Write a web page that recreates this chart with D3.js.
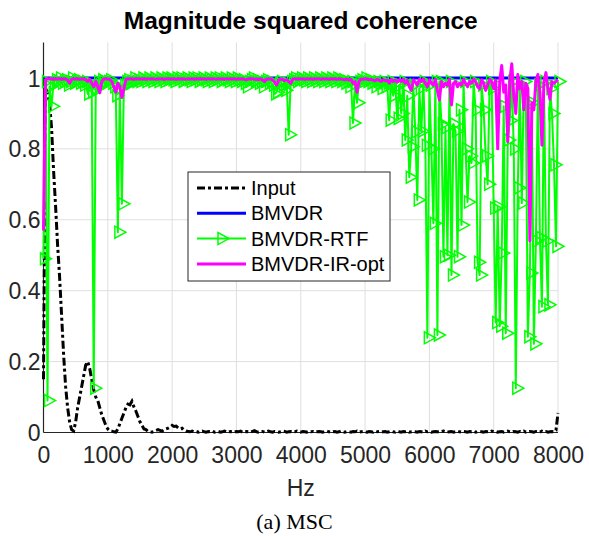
<!DOCTYPE html>
<html lang="en">
<head>
  <meta charset="UTF-8">
  <title>Magnitude squared coherence</title>
  <script src="https://d3js.org/d3.v7.min.js"></script>
  <style>
    body {
      margin: 0;
      background: white;
      font-family: "Liberation Sans", Arial, sans-serif;
    }
  </style>
</head>
<body>
  <div id="chart"></div>

  <script>
    // FFT bins: 512-point FFT at 16 kHz -> 257 bins from 0 to 8000 Hz
    const fs = 16000, nfft = 512;
    const freqs = d3.range(nfft / 2 + 1).map(i => i * fs / nfft);

    const xTicks = [0, 1000, 2000, 3000, 4000, 5000, 6000, 7000, 8000];
    const yTicks = [0, 0.2, 0.4, 0.6, 0.8, 1];

    // Input (black dash-dot)
    const input = [
      0.15, 0.97, 0.96, 0.93, 0.86, 0.74, 0.64, 0.53, 0.44, 0.33, 0.22, 0.13, 0.07, 0.03, 0.008, 0.004,
      0.03, 0.07, 0.10, 0.13, 0.16, 0.19, 0.20, 0.18, 0.15, 0.12, 0.10, 0.09, 0.07, 0.05, 0.035, 0.02,
      0.01, 0.005, 0.004, 0.002, 0.001, 0.01, 0.025, 0.04, 0.055, 0.07, 0.08, 0.078, 0.088, 0.072, 0.06, 0.045,
      0.03, 0.02, 0.01, 0.008, 0.003, 0.002, 0.001, 0.003, 0.006, 0.008, 0.006, 0.004, 0.008, 0.01, 0.012, 0.015,
      0.02, 0.017, 0.018, 0.013, 0.01, 0.012, 0.007, 0.004, 0.003, 0.002, 0.004, 0.002, 0.003, 0.001, 0.002, 0.004,
      0.002, 0.001, 0.003, 0.002, 0.004, 0.001, 0.002, 0.003, 0.001, 0.002, 0.004, 0.002, 0.001, 0.003, 0.002, 0.001,
      0.003, 0.002, 0.004, 0.001, 0.002, 0.003, 0.002, 0.001, 0.003, 0.005, 0.002, 0.001, 0.002, 0.003, 0.001, 0.002,
      0.004, 0.002, 0.001, 0.003, 0.002, 0.001, 0.002, 0.004, 0.003, 0.001, 0.002, 0.003, 0.001, 0.002, 0.004, 0.002,
      0.001, 0.003, 0.002, 0.001, 0.004, 0.002, 0.003, 0.001, 0.002, 0.003, 0.002, 0.001, 0.003, 0.004, 0.002, 0.001,
      0.002, 0.003, 0.001, 0.002, 0.004, 0.002, 0.001, 0.003, 0.002, 0.001, 0.003, 0.002, 0.004, 0.001, 0.002, 0.003,
      0.002, 0.001, 0.003, 0.002, 0.001, 0.004, 0.002, 0.003, 0.001, 0.002, 0.003, 0.001, 0.002, 0.004, 0.002, 0.001,
      0.003, 0.002, 0.001, 0.003, 0.002, 0.004, 0.001, 0.002, 0.003, 0.002, 0.001, 0.003, 0.002, 0.001, 0.004, 0.002,
      0.003, 0.001, 0.002, 0.003, 0.002, 0.001, 0.003, 0.004, 0.002, 0.001, 0.002, 0.003, 0.001, 0.002, 0.004, 0.002,
      0.001, 0.003, 0.002, 0.001, 0.003, 0.002, 0.004, 0.001, 0.002, 0.003, 0.002, 0.001, 0.003, 0.002, 0.001, 0.004,
      0.002, 0.003, 0.001, 0.002, 0.003, 0.001, 0.002, 0.004, 0.002, 0.001, 0.003, 0.002, 0.001, 0.003, 0.002, 0.004,
      0.001, 0.002, 0.003, 0.002, 0.001, 0.003, 0.002, 0.001, 0.004, 0.002, 0.003, 0.001, 0.002, 0.003, 0.002, 0.006,
      0.055
    ];

    // BMVDR (blue) stays at 1 over the whole band
    const bmvdr = [
      1, 1, 1, 1, 1, 1, 1, 1, 1, 1, 1, 1, 1, 1, 1, 1,
      1, 1, 1, 1, 1, 1, 1, 1, 1, 1, 1, 1, 1, 1, 1, 1,
      1, 1, 1, 1, 1, 1, 1, 1, 1, 1, 1, 1, 1, 1, 1, 1,
      1, 1, 1, 1, 1, 1, 1, 1, 1, 1, 1, 1, 1, 1, 1, 1,
      1, 1, 1, 1, 1, 1, 1, 1, 1, 1, 1, 1, 1, 1, 1, 1,
      1, 1, 1, 1, 1, 1, 1, 1, 1, 1, 1, 1, 1, 1, 1, 1,
      1, 1, 1, 1, 1, 1, 1, 1, 1, 1, 1, 1, 1, 1, 1, 1,
      1, 1, 1, 1, 1, 1, 1, 1, 1, 1, 1, 1, 1, 1, 1, 1,
      1, 1, 1, 1, 1, 1, 1, 1, 1, 1, 1, 1, 1, 1, 1, 1,
      1, 1, 1, 1, 1, 1, 1, 1, 1, 1, 1, 1, 1, 1, 1, 1,
      1, 1, 1, 1, 1, 1, 1, 1, 1, 1, 1, 1, 1, 1, 1, 1,
      1, 1, 1, 1, 1, 1, 1, 1, 1, 1, 1, 1, 1, 1, 1, 1,
      1, 1, 1, 1, 1, 1, 1, 1, 1, 1, 1, 1, 1, 1, 1, 1,
      1, 1, 1, 1, 1, 1, 1, 1, 1, 1, 1, 1, 1, 1, 1, 1,
      1, 1, 1, 1, 1, 1, 1, 1, 1, 1, 1, 1, 1, 1, 1, 1,
      1, 1, 1, 1, 1, 1, 1, 1, 1, 1, 1, 1, 1, 1, 1, 1,
      1
    ];

    // BMVDR-RTF (green, with > markers)
    const bmvdrRtf = [
      0.49, 0.99, 0.09, 0.975, 0.92, 0.985, 0.995, 0.99, 1.0, 0.985, 0.99, 0.995, 0.98, 0.99, 1.0, 0.985,
      0.99, 0.995, 0.985, 0.99, 0.98, 0.99, 0.955, 0.985, 0.96, 0.125, 0.97, 0.99, 0.98, 0.995, 0.99, 0.985,
      0.99, 0.995, 0.985, 0.975, 0.95, 0.565, 0.97, 0.645, 0.98, 0.99, 0.995, 0.985, 0.99, 1.0, 0.99, 0.995,
      0.99, 1.0, 0.995, 0.99, 1.0, 0.995, 0.99, 1.0, 0.995, 0.99, 1.0, 0.995, 0.99, 1.0, 0.995, 1.0,
      0.995, 0.99, 1.0, 0.995, 1.0, 0.99, 0.995, 1.0, 0.995, 0.99, 1.0, 0.995, 1.0, 0.99, 0.995, 1.0,
      0.995, 0.99, 1.0, 0.995, 0.99, 1.0, 0.995, 1.0, 0.99, 0.995, 1.0, 0.995, 0.99, 1.0, 0.995, 0.99,
      1.0, 0.995, 0.99, 0.995, 0.985, 0.975, 0.99, 0.995, 1.0, 0.99, 0.995, 0.985, 0.99, 0.975, 0.99, 0.995,
      0.985, 0.99, 0.98, 0.955, 0.96, 0.985, 0.99, 0.98, 0.965, 0.985, 0.84, 0.99, 0.995, 1.0, 0.99, 0.995,
      1.0, 0.995, 0.99, 1.0, 0.995, 0.99, 1.0, 0.995, 0.99, 1.0, 0.995, 0.99, 1.0, 0.995, 0.99, 1.0,
      0.995, 0.99, 1.0, 0.995, 0.99, 0.995, 0.985, 0.99, 0.975, 0.99, 0.873, 0.985, 0.93, 0.99, 0.995, 0.99,
      1.0, 0.99, 0.995, 0.985, 0.99, 0.975, 0.99, 0.985, 0.97, 0.99, 0.975, 0.985, 0.881, 0.99, 0.95, 0.985,
      0.886, 0.98, 0.90, 0.99, 0.825, 0.95, 0.72, 0.806, 0.98, 0.848, 0.656, 0.97, 0.85, 0.99, 0.81, 0.267,
      0.98, 0.80, 0.59, 0.99, 0.275, 0.99, 0.87, 0.496, 0.86, 0.50, 0.99, 0.444, 0.87, 0.85, 0.496, 0.91,
      0.585, 0.99, 0.80, 0.65, 0.78, 0.76, 0.99, 0.91, 0.48, 0.444, 0.98, 0.91, 0.78, 0.70, 0.99, 0.97,
      0.633, 0.31, 0.637, 0.30, 0.506, 0.92, 0.28, 0.825, 0.88, 0.99, 0.80, 0.125, 0.69, 0.98, 0.647, 0.99,
      0.93, 0.27, 0.45, 0.93, 0.25, 0.54, 0.98, 0.55, 0.355, 0.99, 0.54, 0.36, 0.97, 0.90, 0.755, 0.525,
      0.99
    ];

    // BMVDR-IR-opt (magenta)
    const bmvdrIrOpt = [
      0.57, 0.995, 0.998, 0.997, 0.998, 0.996, 0.998, 0.997, 0.998, 0.996, 0.998, 0.997, 0.994, 0.985, 0.996, 0.998,
      0.997, 0.998, 0.996, 0.998, 0.997, 0.995, 0.99, 0.996, 0.985, 0.975, 0.99, 0.975, 0.958, 0.99, 0.997, 0.998,
      0.997, 0.996, 0.99, 0.975, 0.96, 0.985, 0.975, 0.945, 0.97, 0.995, 0.998, 0.997, 0.998, 0.996, 0.998, 0.997,
      0.998, 0.997, 0.998, 0.996, 0.998, 0.997, 0.998, 0.997, 0.996, 0.998, 0.997, 0.998, 0.996, 0.998, 0.997, 0.998,
      0.997, 0.998, 0.996, 0.998, 0.997, 0.998, 0.997, 0.996, 0.998, 0.997, 0.998, 0.996, 0.998, 0.997, 0.998, 0.997,
      0.998, 0.996, 0.998, 0.997, 0.998, 0.997, 0.996, 0.998, 0.997, 0.998, 0.996, 0.998, 0.997, 0.998, 0.997, 0.998,
      0.996, 0.998, 0.997, 0.998, 0.996, 0.995, 0.998, 0.997, 0.998, 0.996, 0.997, 0.995, 0.998, 0.994, 0.99, 0.997,
      0.996, 0.998, 0.994, 0.988, 0.98, 0.994, 0.997, 0.996, 0.992, 0.995, 0.99, 0.985, 0.996, 0.998, 0.997, 0.998,
      0.997, 0.998, 0.996, 0.998, 0.997, 0.998, 0.996, 0.998, 0.997, 0.998, 0.996, 0.998, 0.997, 0.998, 0.996, 0.998,
      0.997, 0.998, 0.996, 0.998, 0.997, 0.996, 0.995, 0.997, 0.994, 0.996, 0.985, 0.99, 0.96, 0.99, 0.997, 0.996,
      0.998, 0.997, 0.995, 0.996, 0.994, 0.992, 0.996, 0.993, 0.99, 0.995, 0.992, 0.994, 0.985, 0.996, 0.99, 0.994,
      0.988, 0.995, 0.99, 0.996, 0.985, 0.993, 0.975, 0.965, 0.995, 0.988, 0.98, 0.996, 0.99, 0.997, 0.985, 0.975,
      0.995, 0.985, 0.98, 0.996, 0.965, 0.938, 0.99, 0.975, 0.985, 0.98, 0.996, 0.924, 0.985, 0.99, 0.975, 0.985,
      0.98, 0.996, 0.985, 0.975, 0.99, 0.985, 0.997, 0.99, 0.975, 0.97, 0.995, 0.985, 0.965, 0.98, 0.996, 0.99,
      0.97, 0.994, 0.80, 0.99, 1.035, 0.96, 0.98, 0.82, 0.99, 1.04, 0.95, 0.90, 1.01, 0.97, 0.99, 0.91,
      0.985, 0.97, 0.54, 0.93, 0.91, 0.99, 1.01, 0.96, 0.81, 0.99, 1.015, 0.97, 0.94, 0.99, 0.985, 0.99,
      0.995
    ];

    const legendLabels = ["Input", "BMVDR", "BMVDR-RTF", "BMVDR-IR-opt"];

    const width = 589, height = 536;
    const margin = {top: 42.5, right: 31, bottom: 103.5, left: 43.5};

    const svg = d3.select("#chart")
                  .append("svg")
                  .attr("width", width)
                  .attr("height", height)
                  .style("display", "block");

    const x = d3.scaleLinear()
                .domain([0, 8000])
                .range([margin.left, width - margin.right]);

    const y = d3.scaleLinear()
                .domain([0, 1.1])
                .range([height - margin.bottom, margin.top]);

    const axisColor = "#262626";

    // grid
    svg.append("g")
       .selectAll("line")
       .data(xTicks.slice(1))
       .join("line")
       .attr("x1", d => x(d)).attr("x2", d => x(d))
       .attr("y1", y(0)).attr("y2", y(1.1))
       .attr("stroke", "#dfdfdf").attr("stroke-width", 1);

    svg.append("g")
       .selectAll("line")
       .data(yTicks.slice(1))
       .join("line")
       .attr("x1", x(0)).attr("x2", x(8000))
       .attr("y1", d => y(d)).attr("y2", d => y(d))
       .attr("stroke", "#dfdfdf").attr("stroke-width", 1);

    // axes (MATLAB style: labels only, box off)
    const xAxis = d3.axisBottom(x).tickValues(xTicks).tickSize(0).tickPadding(14)
                    .tickFormat(d3.format("d"));
    const yAxis = d3.axisLeft(y).tickValues(yTicks).tickSize(0).tickPadding(3)
                    .tickFormat(d => d === 0 || d === 1 ? d : d3.format(".1f")(d));

    const gx = svg.append("g")
                  .attr("transform", `translate(0,${y(0)})`)
                  .call(xAxis);
    const gy = svg.append("g")
                  .attr("transform", `translate(${x(0)},0)`)
                  .call(yAxis);

    [gx, gy].forEach(g => {
      g.select(".domain").remove();
      g.selectAll("text")
       .attr("fill", axisColor)
       .style("font-family", "'Liberation Sans', Arial, sans-serif")
       .style("font-size", "23px");
    });
    gy.selectAll("text").attr("dy", "0.35em");

    svg.append("line")
       .attr("x1", x(0)).attr("x2", x(0))
       .attr("y1", y(0)).attr("y2", y(1.1))
       .attr("stroke", axisColor).attr("stroke-width", 1.2);
    svg.append("line")
       .attr("x1", x(0)).attr("x2", x(8000))
       .attr("y1", y(0)).attr("y2", y(0))
       .attr("stroke", axisColor).attr("stroke-width", 1.2);

    const line = d3.line()
                   .x((d, i) => x(freqs[i]))
                   .y(d => y(d));

    // series, drawn in MATLAB plotting order
    svg.append("path")
       .datum(input)
       .attr("d", line)
       .attr("fill", "none")
       .attr("stroke", "black")
       .attr("stroke-width", 3)
       .attr("stroke-dasharray", "8,3,3,3");

    svg.append("path")
       .datum(bmvdr)
       .attr("d", line)
       .attr("fill", "none")
       .attr("stroke", "#0000ff")
       .attr("stroke-width", 3);

    svg.append("path")
       .datum(bmvdrRtf)
       .attr("d", line)
       .attr("fill", "none")
       .attr("stroke", "#00ff00")
       .attr("stroke-width", 2)
       .attr("stroke-linejoin", "round");

    const triRight = "M-3,-6L-3,6L8,0Z";

    svg.append("g")
       .selectAll("path")
       .data(bmvdrRtf)
       .join("path")
       .attr("transform", (d, i) => `translate(${x(freqs[i])},${y(d)})`)
       .attr("d", triRight)
       .attr("fill", "none")
       .attr("stroke", "#00ff00")
       .attr("stroke-width", 1.5);

    svg.append("path")
       .datum(bmvdrIrOpt)
       .attr("d", line)
       .attr("fill", "none")
       .attr("stroke", "#ff00ff")
       .attr("stroke-width", 3)
       .attr("stroke-linejoin", "round");

    // legend
    const legend = svg.append("g").attr("transform", "translate(188,172)");
    legend.append("rect")
          .attr("width", 202).attr("height", 109)
          .attr("fill", "white")
          .attr("stroke", axisColor).attr("stroke-width", 1);

    const legendStyles = [
      {color: "black", width: 3, dash: "8,3,3,3"},
      {color: "#0000ff", width: 3, dash: null},
      {color: "#00ff00", width: 2, dash: null, marker: true},
      {color: "#ff00ff", width: 3, dash: null}
    ];

    legendLabels.forEach((label, i) => {
      const ly = 16 + i * 25.3;
      const s = legendStyles[i];
      legend.append("line")
            .attr("x1", 9).attr("x2", 58)
            .attr("y1", ly).attr("y2", ly)
            .attr("stroke", s.color)
            .attr("stroke-width", s.width)
            .attr("stroke-dasharray", s.dash);
      if (s.marker) {
        legend.append("path")
              .attr("transform", `translate(33,${ly})`)
              .attr("d", triRight)
              .attr("fill", "none")
              .attr("stroke", s.color)
              .attr("stroke-width", 1.5);
      }
      legend.append("text")
            .attr("x", 63).attr("y", ly)
            .attr("dy", "0.35em")
            .style("font-size", "20px")
            .attr("fill", "black")
            .text(label);
    });

    // titles
    svg.append("text")
       .attr("x", (x(0) + x(8000)) / 2).attr("y", 29)
       .attr("text-anchor", "middle")
       .style("font-size", "24.5px")
       .style("font-weight", "bold")
       .attr("fill", "black")
       .text("Magnitude squared coherence");

    svg.append("text")
       .attr("x", (x(0) + x(8000)) / 2).attr("y", 496)
       .attr("text-anchor", "middle")
       .style("font-size", "23px")
       .attr("fill", axisColor)
       .text("Hz");

    svg.append("text")
       .attr("x", width / 2).attr("y", 529)
       .attr("text-anchor", "middle")
       .style("font-family", "'Liberation Serif', 'Times New Roman', serif")
       .style("font-size", "22px")
       .attr("fill", "black")
       .text("(a) MSC");
  </script>
</body>
</html>
